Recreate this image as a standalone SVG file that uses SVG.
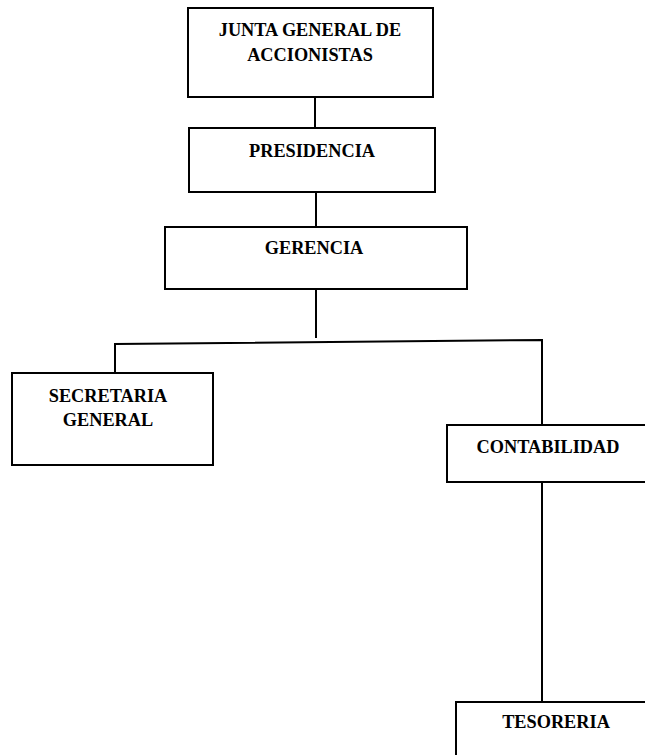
<svg xmlns="http://www.w3.org/2000/svg" width="645" height="755" viewBox="0 0 645 755">
<style>
.box{fill:#fff;stroke:#000;stroke-width:2}
.lbl{font-family:"Liberation Serif","Times New Roman",serif;font-weight:bold;font-size:18.3px;fill:#000;text-anchor:middle}
.con{stroke:#000;stroke-width:2;fill:none}
</style>
<rect width="645" height="755" fill="#fff"/>
<g id="connectors">
<line class="con" x1="315" y1="97" x2="315" y2="127"/>
<line class="con" x1="316" y1="192" x2="316" y2="228"/>
<line class="con" x1="316" y1="289" x2="316" y2="338"/>
<polyline class="con" points="115,373 115,344 542,340 542,425"/>
<line class="con" x1="542" y1="482" x2="542" y2="702"/>
</g>
<g id="junta">
<rect class="box" x="188" y="8" width="245" height="89"/>
<text class="lbl" x="310" y="36">JUNTA GENERAL DE</text>
<text class="lbl" x="310" y="61">ACCIONISTAS</text>
</g>
<g id="presidencia">
<rect class="box" x="189" y="128" width="246" height="64"/>
<text class="lbl" x="312" y="157">PRESIDENCIA</text>
</g>
<g id="gerencia">
<rect class="box" x="165" y="227" width="302" height="62"/>
<text class="lbl" x="314" y="254">GERENCIA</text>
</g>
<g id="secretaria">
<rect class="box" x="12" y="373" width="201" height="92"/>
<text class="lbl" x="108" y="402">SECRETARIA</text>
<text class="lbl" x="108" y="426">GENERAL</text>
</g>
<g id="contabilidad">
<rect class="box" x="447" y="425" width="210" height="57"/>
<text class="lbl" x="548" y="453">CONTABILIDAD</text>
</g>
<g id="tesoreria">
<rect class="box" x="456" y="702" width="210" height="70"/>
<text class="lbl" x="556" y="728">TESORERIA</text>
</g>
</svg>
